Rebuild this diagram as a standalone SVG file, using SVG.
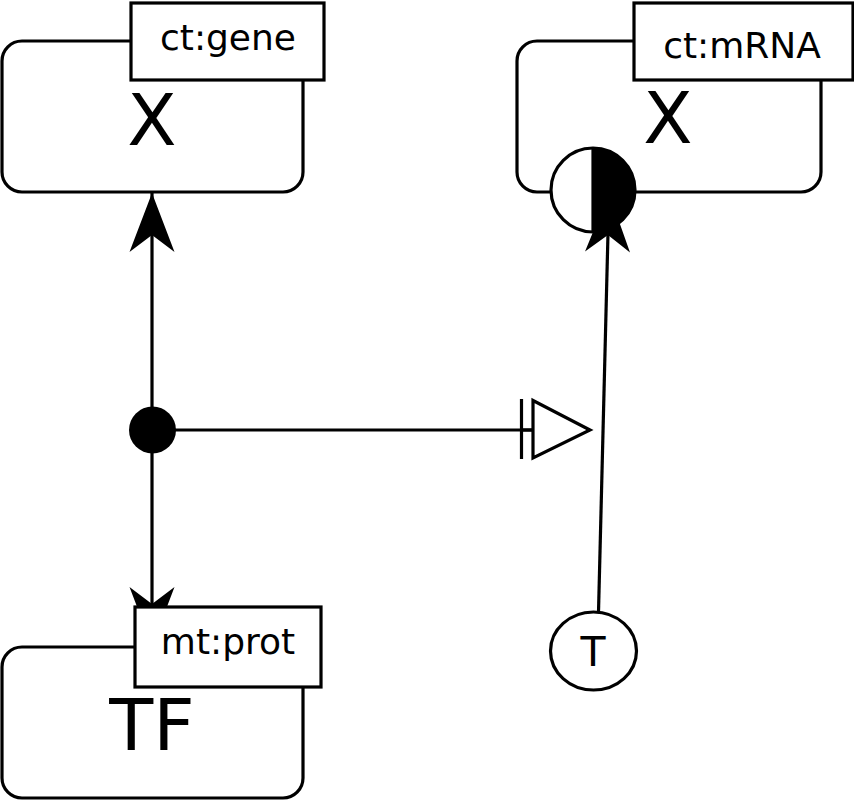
<svg xmlns="http://www.w3.org/2000/svg" width="854" height="800" viewBox="0 0 854 800">
  <style>
    .edge { fill: none; stroke: #000; stroke-width: 3.2; }
    .node { fill: #fff; stroke: #000; stroke-width: 3.2; }
    .lbl { font-family: "DejaVu Sans", sans-serif; font-size: 36px; text-anchor: middle; fill: #000; }
    .big { font-family: "DejaVu Sans", sans-serif; font-size: 72px; text-anchor: middle; fill: #000; }
  </style>
  <defs>
    <!-- stealth arrowhead, tip at the path end -->
    <marker id="stim" markerUnits="userSpaceOnUse" viewBox="-60 -25 62 50" markerWidth="62" markerHeight="50" refX="0" refY="0" orient="auto" overflow="visible">
      <path d="M0,0 L-59,-22.5 L-42,0 L-59,22.5 Z" fill="#000" stroke="none"/>
    </marker>
    <!-- necessary stimulation: bar plus open triangle -->
    <marker id="nstim" markerUnits="userSpaceOnUse" viewBox="-72 -32 76 64" markerWidth="76" markerHeight="64" refX="0" refY="0" orient="auto" overflow="visible">
      <line x1="-68.5" y1="-31" x2="-68.5" y2="29" stroke="#000" stroke-width="3.2"/>
      <line x1="-68.5" y1="0" x2="-57" y2="0" stroke="#000" stroke-width="3.2"/>
      <path d="M-57,-29.5 L0,0 L-57,28 Z" fill="#fff" stroke="#000" stroke-width="3.2"/>
    </marker>
  </defs>

  <g id="edges">
    <path class="edge" d="M152,430 L152,193" marker-end="url(#stim)"/>
    <path class="edge" d="M152,430 L152,646" marker-end="url(#stim)"/>
    <path class="edge" d="M152,430 L590,430" marker-end="url(#nstim)"/>
    <path class="edge" d="M598.5,612 L609,193" marker-end="url(#stim)"/>
  </g>

  <g id="association">
    <circle cx="152.5" cy="430" r="23.5" fill="#000"/>
  </g>

  <g id="gene">
    <rect class="node" x="2" y="41" width="301" height="151" rx="20"/>
    <text class="big" x="152" y="145">X</text>
    <rect class="node" x="131" y="3" width="193" height="77"/>
    <text class="lbl" x="228" y="50">ct:gene</text>
  </g>

  <g id="mrna">
    <rect class="node" x="517" y="41" width="304" height="151" rx="20"/>
    <text class="big" x="668" y="143">X</text>
    <rect class="node" x="634" y="3" width="219" height="77"/>
    <text class="lbl" x="742" y="58">ct:mRNA</text>
    <g id="mrna-state">
      <circle cx="593" cy="190" r="42" fill="#fff" stroke="none"/>
      <path d="M593,148 A42,42 0 0,1 593,232 Z" fill="#000"/>
      <line x1="593" y1="148" x2="593" y2="232" stroke="#000" stroke-width="3.2"/>
      <circle cx="593" cy="190" r="42" fill="none" stroke="#000" stroke-width="3.2"/>
    </g>
  </g>

  <g id="tf">
    <rect class="node" x="2" y="647" width="301" height="151" rx="20"/>
    <text class="big" x="152" y="750">TF</text>
    <rect class="node" x="135" y="607" width="186" height="80"/>
    <text class="lbl" x="228" y="654">mt:prot</text>
  </g>

  <g id="trigger">
    <ellipse class="node" cx="593.5" cy="651" rx="43" ry="39"/>
    <text x="593" y="666" font-family="DejaVu Sans, sans-serif" font-size="41" text-anchor="middle">T</text>
  </g>
</svg>
